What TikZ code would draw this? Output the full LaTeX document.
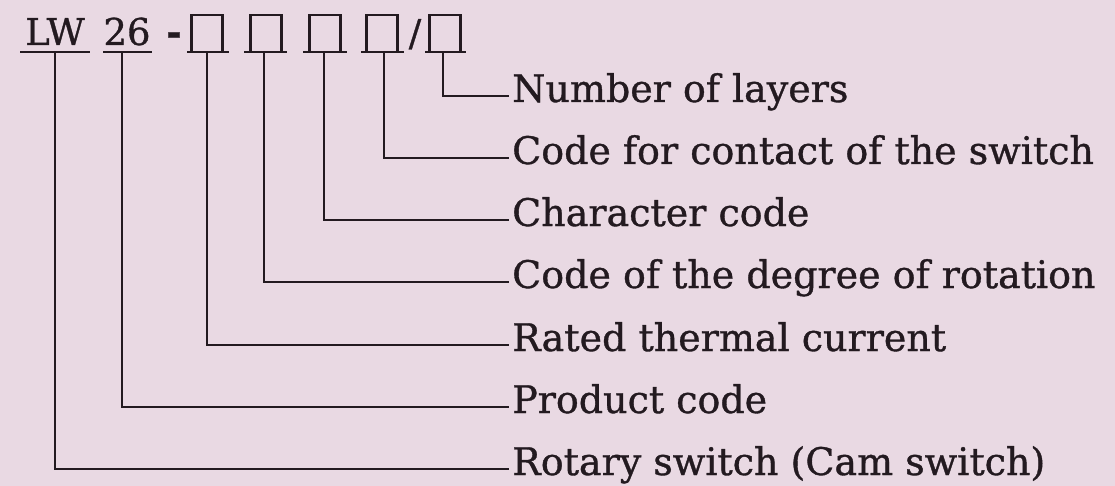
\documentclass[tikz,border=0pt]{standalone}
\usepackage{fontspec}
\setmainfont[FakeBold=0.9]{DejaVu Serif}
\definecolor{bg}{RGB}{233,217,227}
\definecolor{ink}{RGB}{35,26,32}
\begin{document}
\begin{tikzpicture}[x=1pt,y=-1pt,
  wire/.style={draw=ink, line width=2.3pt},
  codetext/.style={font=\fontsize{37}{40}\selectfont, text=ink, inner sep=0pt, anchor=base},
  codebox/.style={draw=ink, line width=2.3pt, minimum width=31pt, minimum height=37pt, inner sep=0pt},
  lab/.style={anchor=west, inner xsep=3pt, inner ysep=0pt, font=\fontsize{38}{42}\selectfont, text=ink, text height=26pt, text depth=14pt}]
\fill[bg] (0,0) rectangle (1115,486);
\useasboundingbox (0,0) rectangle (1115,486);
% code line
\node[codetext] (lw) at (55,45) {LW};
\node[codetext] (n26) at (127,45) {26};
\node[codetext, font=\fontsize{37}{40}\selectfont\bfseries] (dash) at (174,45) {-};
\node[codebox] (b1) at (207,33.5) {};
\node[codebox] (b2) at (266,33.5) {};
\node[codebox] (b3) at (325,33.5) {};
\node[codebox] (b4) at (382,33.5) {};
\node[codetext] (sl) at (415,46) {/};
\node[codebox] (b5) at (445,33.5) {};
% underlines
\draw[wire] (20,52) -- (90,52);
\draw[wire] (103,52) -- (152,52);
\draw[wire] (187,52) -- (229,52);
\draw[wire] (244,52) -- (287,52);
\draw[wire] (303,52) -- (347,52);
\draw[wire] (361,52) -- (404,52);
\draw[wire] (425,52) -- (466,52);
% connector starts
\coordinate (c1) at (55,52);
\coordinate (c2) at (122,52);
\coordinate (c3) at (207,52);
\coordinate (c4) at (264,52);
\coordinate (c5) at (324,52);
\coordinate (c6) at (384,52);
\coordinate (c7) at (443,52);
% labels
\node[lab] (l7) at (509,96) {Number of layers};
\node[lab] (l6) at (509,158) {Code for contact of the switch};
\node[lab] (l5) at (509,220) {Character code};
\node[lab] (l4) at (509,282) {Code of the degree of rotation};
\node[lab] (l3) at (509,345) {Rated thermal current};
\node[lab] (l2) at (509,407) {Product code};
\node[lab] (l1) at (509,469) {Rotary switch (Cam switch)};
% connectors
\draw[wire] (c1) |- (l1.west);
\draw[wire] (c2) |- (l2.west);
\draw[wire] (c3) |- (l3.west);
\draw[wire] (c4) |- (l4.west);
\draw[wire] (c5) |- (l5.west);
\draw[wire] (c6) |- (l6.west);
\draw[wire] (c7) |- (l7.west);
\end{tikzpicture}
\end{document}
